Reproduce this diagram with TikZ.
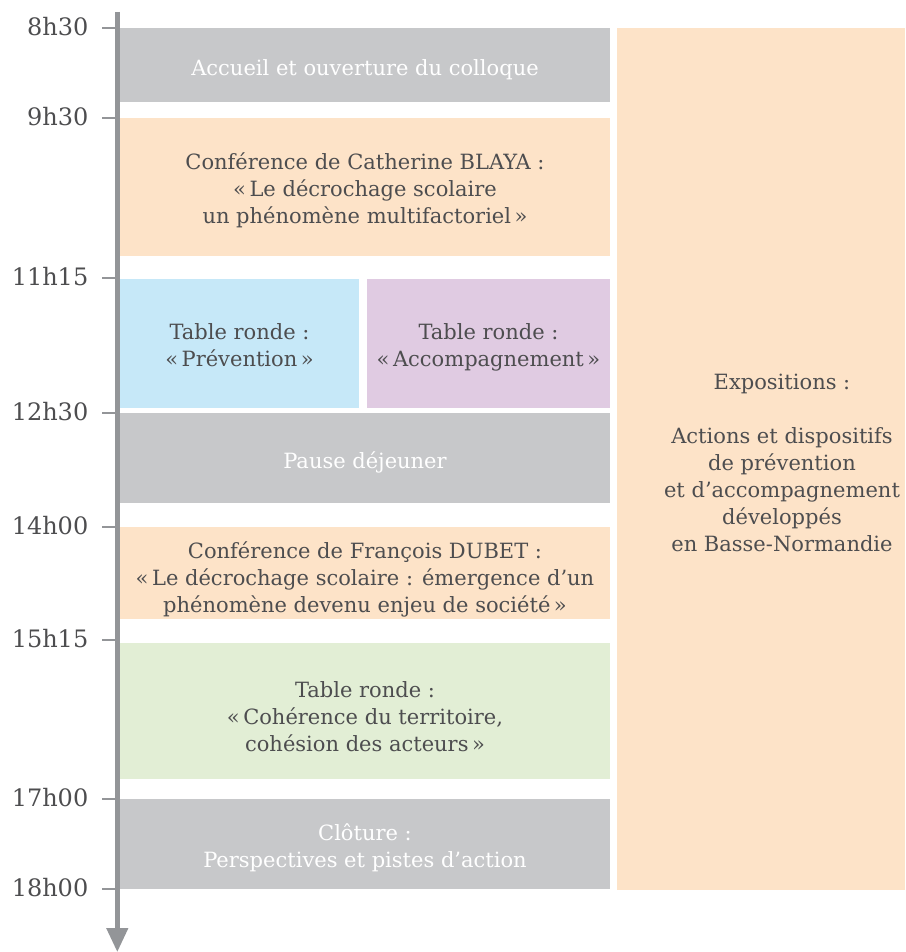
\documentclass[tikz,border=0pt]{standalone}
\usepackage{fontspec}
\setmainfont{DejaVu Serif}
\usetikzlibrary{arrows.meta}
\definecolor{boxgray}{HTML}{C7C8CA}
\definecolor{peach}{HTML}{FDE3C8}
\definecolor{lightblue}{HTML}{C6E8F8}
\definecolor{lavender}{HTML}{E0CBE2}
\definecolor{lightgreen}{HTML}{E2EED5}
\definecolor{axisgray}{HTML}{939598}
\definecolor{textgray}{HTML}{4D4D4F}
\begin{document}
\begin{tikzpicture}[x=1pt,y=-1pt,
  block/.style={anchor=north west, inner sep=0pt, outer sep=0pt, draw=none},
  txt/.style={align=center, text=textgray, font=\fontsize{21}{27}\selectfont, inner sep=0pt},
  wtxt/.style={txt, text=white},
  timelbl/.style={anchor=east, text=textgray, font=\fontsize{24}{28}\selectfont, inner sep=0pt},
  tickmark/.style={draw=axisgray, line width=2.8pt},
  axisline/.style={draw=axisgray, line width=4.5pt, -{Triangle[width=21pt,length=24pt]}}]
\useasboundingbox (0,0) rectangle (905,952);

% blocks
\node[block, fill=boxgray, minimum width=490pt, minimum height=74pt] (accueil) at (120,28) {};
\node[block, fill=peach, minimum width=490pt, minimum height=138pt] (blaya) at (120,118) {};
\node[block, fill=lightblue, minimum width=239pt, minimum height=129pt] (prev) at (120,279) {};
\node[block, fill=lavender, minimum width=243pt, minimum height=129pt] (accomp) at (367,279) {};
\node[block, fill=boxgray, minimum width=490pt, minimum height=90pt] (pause) at (120,413) {};
\node[block, fill=peach, minimum width=490pt, minimum height=92pt] (dubet) at (120,527) {};
\node[block, fill=lightgreen, minimum width=490pt, minimum height=136pt] (coher) at (120,643) {};
\node[block, fill=boxgray, minimum width=490pt, minimum height=90pt] (cloture) at (120,799) {};
\node[block, fill=peach, minimum width=288pt, minimum height=862pt] (expo) at (617,28) {};

% texts
\node[wtxt] (taccueil) at (365,69.5) {Accueil et ouverture du colloque};
\node[txt] (tblaya) at (365,190) {Conférence de Catherine BLAYA :\\«\,Le décrochage scolaire\\un phénomène multifactoriel\,»};
\node[txt] (tprev) at (239.5,345.5) {Table ronde :\\«\,Prévention\,»};
\node[txt] (taccomp) at (488.5,347.5) {Table ronde :\\«\,Accompagnement\,»};
\node[wtxt] (tpause) at (365,462) {Pause déjeuner};
\node[txt] (tdubet) at (365,579) {Conférence de François DUBET :\\«\,Le décrochage scolaire : émergence d’un\\phénomène devenu enjeu de société\,»};
\node[txt] (tcoher) at (365,716.5) {Table ronde :\\«\,Cohérence du territoire,\\cohésion des acteurs\,»};
\node[wtxt] (tcloture) at (365,847.5) {Clôture :\\Perspectives et pistes d’action};
\node[txt] (texpo) at (782,462.5) {Expositions :\\[27pt]Actions et dispositifs\\de prévention\\et d’accompagnement\\développés\\en Basse-Normandie};

% axis
\coordinate (axtop) at (117.3,12);
\coordinate (axbot) at (117.3,952);
\draw[axisline] (axtop) -- (axbot);

% ticks and time labels
\foreach \yy/\lab/\nm in {28/8h30/ta,118/9h30/tb,278/11h15/tc,413/12h30/td,527/14h00/te,640/15h15/tf,799/17h00/tg,889/18h00/th}{
  \coordinate (\nm s) at (102,\yy);
  \coordinate (\nm e) at (116,\yy);
  \draw[tickmark] (\nm s) -- (\nm e);
  \node[timelbl] (\nm) at (88.5,\yy-1) {\lab};
}
\end{tikzpicture}
\end{document}
